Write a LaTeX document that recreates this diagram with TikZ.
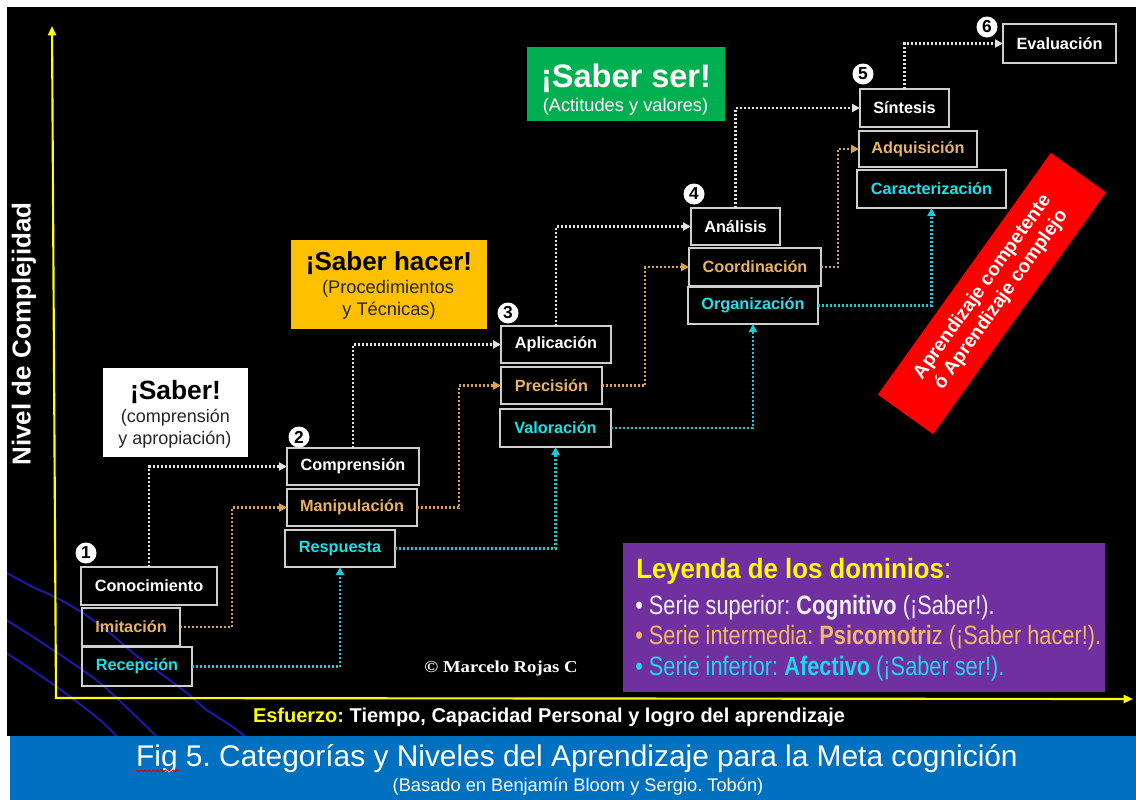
\documentclass[tikz,border=0pt]{standalone}
\usepackage{fontspec}
\setmainfont{Liberation Sans}
\newfontfamily\narrowfont{Liberation Sans}[FakeStretch=0.82]
\newfontfamily\narrowtitle{Liberation Sans}[FakeStretch=0.92]
\newfontfamily\copyfont{Liberation Serif}[FakeStretch=1.12]
\usetikzlibrary{arrows.meta,fit,calc,decorations.pathmorphing}
\frenchspacing
\definecolor{cogw}{HTML}{FFFFFF}
\definecolor{psy}{HTML}{E9B35E}
\definecolor{aff}{HTML}{17E3E8}
\definecolor{dotw}{HTML}{E2E2E2}
\definecolor{doto}{HTML}{D9A24E}
\definecolor{dotc}{HTML}{19CBD8}
\definecolor{boxgray}{HTML}{CFCFCF}
\definecolor{axisyel}{HTML}{FFFF00}
\definecolor{curveblue}{HTML}{1A1AA6}
\definecolor{sabhacer}{HTML}{FFC000}
\definecolor{sabser}{HTML}{00B050}
\definecolor{legpurple}{HTML}{7030A0}
\definecolor{legw}{HTML}{F4F0F8}
\definecolor{lego}{HTML}{F4B66A}
\definecolor{legc}{HTML}{22D6EC}
\definecolor{capblue}{HTML}{0070C0}
\definecolor{bandred}{HTML}{FF0000}
\begin{document}
\frenchspacing
\begin{tikzpicture}[x=0.75pt,y=-0.75pt,
  box/.style={draw=boxgray, line width=1.1pt, inner sep=0pt, outer sep=0pt, font=\bfseries\fontsize{12.2}{14}\selectfont},
  tip/.style={-{Triangle[length=6pt,width=6pt]}},
  wline/.style={draw=dotw, line width=1.8pt, dash pattern=on 1.5pt off 1.5pt, tip},
  oline/.style={draw=doto, line width=1.8pt, dash pattern=on 1.5pt off 1.5pt, tip},
  cline/.style={draw=dotc, line width=1.8pt, dash pattern=on 1.5pt off 1.5pt, tip},
  numc/.style={circle, fill=white, minimum size=15.75pt, inner sep=0pt, text=black, font=\bfseries\fontsize{13}{13}\selectfont},
  txt/.style={inner sep=0pt},
  curve/.style={draw=curveblue, line width=1.5pt},
  axisline/.style={draw=axisyel, line width=1.6pt, {Triangle[length=7pt,width=6pt]}-{Triangle[length=7pt,width=6pt]}}
]
\useasboundingbox (0,0) rectangle (1136,800);
\fill[white] (0,0) rectangle (1136,800);
\fill[black] (7,7) rectangle (1136,736);

% background curves
\begin{scope}
\clip (7,7) rectangle (1136,736);
\draw[curve] plot[smooth] coordinates {(5,572) (33,587) (55,597) (83,613) (110,633) (133,653) (160,673) (187,693) (207,710) (233,727) (252,742)};
\draw[curve] plot[smooth] coordinates {(5,619) (53,650) (100,683) (147,727) (162,742)};
\draw[curve] plot[smooth] coordinates {(5,652) (57,687) (100,720) (122,742)};
\end{scope}

% axes
\coordinate (ytop) at (52,26);
\coordinate (orig) at (56,698);
\coordinate (xend) at (1133,699);
\draw[axisline] (ytop) -- (orig) -- (xend);

% boxes
\node[box, text=cogw, minimum width=102pt,   minimum height=28.5pt]  (con)  at (149,586)     {Conocimiento};
\node[box, text=psy,  minimum width=73.5pt,  minimum height=28.5pt]  (imi)  at (131,627)     {Imitación};
\node[box, text=aff,  minimum width=82.5pt,  minimum height=29.25pt] (rec)  at (137,666.5)   {Recepción};
\node[box, text=cogw, minimum width=99pt,    minimum height=27.75pt] (comp) at (353,466.5)   {Comprensión};
\node[box, text=psy,  minimum width=97.5pt,  minimum height=27.75pt] (man)  at (352,507.5)   {Manipulación};
\node[box, text=aff,  minimum width=82.5pt,  minimum height=27.75pt] (resp) at (340,548.5)   {Respuesta};
\node[box, text=cogw, minimum width=82.5pt,  minimum height=27.75pt] (apl)  at (556,344.5)   {Aplicación};
\node[box, text=psy,  minimum width=75.75pt, minimum height=27.75pt] (pre)  at (551.5,385.5) {Precisión};
\node[box, text=aff,  minimum width=83.25pt, minimum height=28.5pt]  (val)  at (555.5,428)   {Valoración};
\node[box, text=cogw, minimum width=66.75pt, minimum height=27.75pt] (ana)  at (735.5,226.5) {Análisis};
\node[box, text=psy,  minimum width=99pt,    minimum height=28.5pt]  (coo)  at (755,267)     {Coordinación};
\node[box, text=aff,  minimum width=97.5pt,  minimum height=27.75pt] (org)  at (753,305.5)   {Organización};
\node[box, text=cogw, minimum width=66.75pt, minimum height=28.5pt]  (sin)  at (904.5,108)   {Síntesis};
\node[box, text=psy,  minimum width=88.5pt,  minimum height=27pt]    (adq)  at (918,149)     {Adquisición};
\node[box, text=aff,  minimum width=111.75pt,minimum height=28.5pt]  (car)  at (931.5,189)   {Caracterización};
\node[box, text=cogw, minimum width=84.75pt, minimum height=29.25pt] (eva)  at (1059.5,43.5) {Evaluación};

% cognitive connectors
\draw[wline] (con.north) |- (comp.west);
\draw[wline] (comp.north) |- (apl.west);
\draw[wline] (apl.north) |- (ana.west);
\draw[wline] (ana.north) |- (sin.west);
\draw[wline] (sin.north) |- (eva.west);
% psychomotor connectors
\draw[oline] (imi.east) -| ($(man.west)+(-55,0)$) -- (man.west);
\draw[oline] (man.east) -| ($(pre.west)+(-42,0)$) -- (pre.west);
\draw[oline] (pre.east) -| ($(coo.west)+(-44,0)$) -- (coo.west);
\draw[oline] (coo.east) -| ($(adq.west)+(-21,0)$) -- (adq.west);
% affective connectors
\draw[cline] (rec.east) -| (resp.south);
\draw[cline] (resp.east) -| (val.south);
\draw[cline] (val.east) -| (org.south);
\draw[cline] (org.east) -| (car.south);

% number circles
\node[numc] (n1) at (86,553) {1};
\node[numc] (n2) at (299,437) {2};
\node[numc] (n3) at (508,313) {3};
\node[numc] (n4) at (694,194) {4};
\node[numc] (n5) at (863,74) {5};
\node[numc] (n6) at (987,27) {6};

% domain labels
\node[fill=white, inner sep=0pt, fit={(103,368) (248,457)}] (lsab) {};
\node[txt, text=black, font=\bfseries\fontsize{19.8}{22}\selectfont] (lsab1) at (175.5,392) {¡Saber!};
\node[txt, text=black!85, font=\fontsize{13.5}{16}\selectfont] (lsab2) at (175.5,418) {(comprensión};
\node[txt, text=black!85, font=\fontsize{13.5}{16}\selectfont] (lsab3) at (175,440) {y apropiación)};

\node[fill=sabhacer, inner sep=0pt, fit={(291,240) (487,329)}] (lhac) {};
\node[txt, text=black, font=\bfseries\fontsize{19.5}{22}\selectfont] (lhac1) at (389,263) {¡Saber hacer!};
\node[txt, text=black!85, font=\fontsize{13.7}{16}\selectfont] (lhac2) at (388,289) {(Procedimientos};
\node[txt, text=black!85, font=\fontsize{13.7}{16}\selectfont] (lhac3) at (389,311) {y Técnicas)};

\node[fill=sabser, inner sep=0pt, fit={(527,47) (725,121)}] (lser) {};
\node[txt, text=white, font=\bfseries\fontsize{24.4}{26}\selectfont] (lser1) at (626,78) {¡Saber ser!};
\node[txt, text=white, font=\fontsize{13.7}{16}\selectfont] (lser2) at (625.5,107) {(Actitudes y valores)};

% red band
\node[fill=bandred, rotate=54.4, minimum width=223pt, minimum height=51pt, inner sep=0pt, align=center, text=white, font=\bfseries\fontsize{14.4}{17}\selectfont] (band) at (992,293.5) {Aprendizaje competente\\ó Aprendizaje complejo};

% legend
\node[fill=legpurple, inner sep=0pt, fit={(623,543) (1105,692)}] (leg) {};
\node[txt, anchor=base west, text=axisyel, font=\narrowtitle\fontsize{21}{24}\selectfont] (legt) at (636,578) {\textbf{Leyenda de los dominios}:};
\node[txt, anchor=base west, text=legw, font=\narrowfont\fontsize{19.9}{22}\selectfont] (leg1) at (635,614) {• Serie superior: \textbf{Cognitivo} (¡Saber!).};
\node[txt, anchor=base west, text=lego, font=\narrowfont\fontsize{19.9}{22}\selectfont] (leg2) at (635,644) {• Serie intermedia: \textbf{Psicomotri}z (¡Saber hacer!).};
\node[txt, anchor=base west, text=legc, font=\narrowfont\fontsize{19.9}{22}\selectfont] (leg3) at (635,675) {• Serie inferior: \textbf{Afectivo} (¡Saber ser!).};

% copyright
\node[txt, text=white, font=\copyfont\bfseries\fontsize{12.5}{14}\selectfont] (copy) at (501,668) {© Marcelo Rojas C};

% axis labels
\node[txt, rotate=90, text=white, font=\bfseries\fontsize{19.5}{22}\selectfont] (ylab) at (24,334) {Nivel de Complejidad};
\node[txt, text=white, font=\bfseries\fontsize{15}{18}\selectfont] (xlab) at (549,717) {\textcolor{axisyel}{Esfuerzo:} Tiempo, Capacidad Personal y logro del aprendizaje};

% caption band
\fill[capblue] (10,736) rectangle (1136,800);
\node[txt, text=white, font=\fontsize{22.4}{26}\selectfont] (cap) at (577,759) {Fig 5. Categorías y Niveles del Aprendizaje para la Meta cognición};
\node[txt, text=white, font=\fontsize{13.7}{16}\selectfont] (sub) at (578,787) {(Basado en Benjamín Bloom y Sergio. Tobón)};
\draw[red!85!black, line width=0.6pt, decorate, decoration={snake, amplitude=0.7pt, segment length=3pt}] ($(cap.base west)+(0,4)$) -- ++(43,0);
\end{tikzpicture}
\end{document}
